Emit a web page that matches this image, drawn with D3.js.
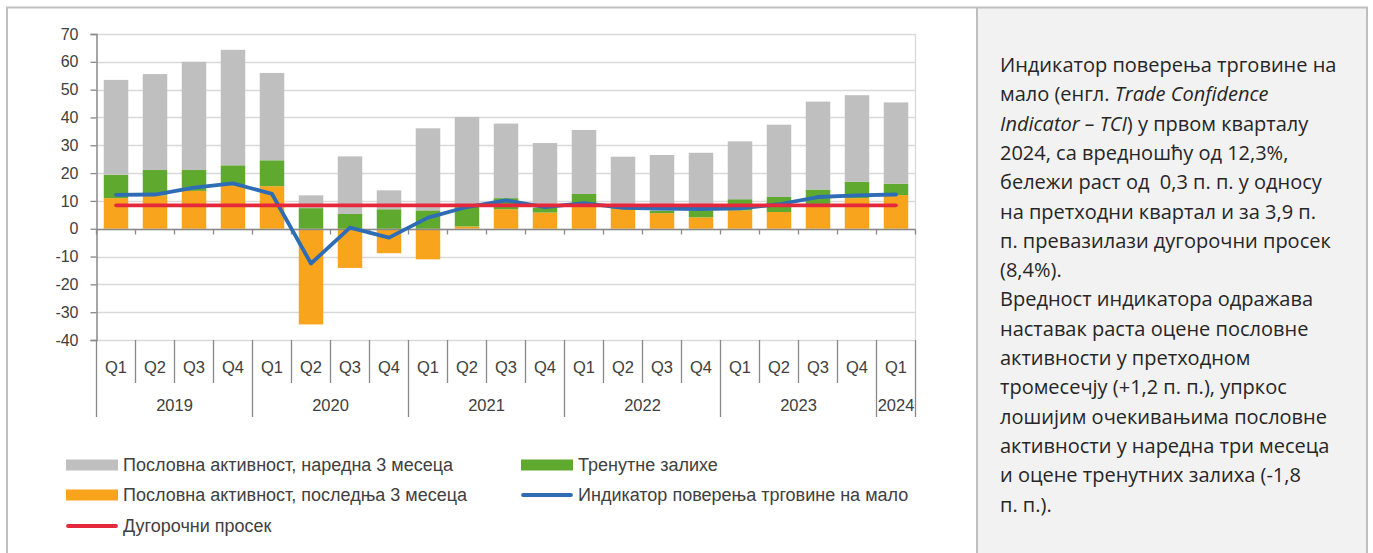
<!DOCTYPE html>
<html>
<head>
<meta charset="utf-8">
<script src="https://cdn.jsdelivr.net/npm/d3@7"></script>
<style>
  html, body { margin: 0; padding: 0; background: #fff; }
  svg { display: block; }
</style>
</head>
<body>
<svg id="chart" width="1373" height="553"></svg>
<script>
// Quarterly categories (two-level axis: quarter / year)
const quarterLabels = ["Q1","Q2","Q3","Q4","Q1","Q2","Q3","Q4","Q1","Q2","Q3","Q4",
                       "Q1","Q2","Q3","Q4","Q1","Q2","Q3","Q4","Q1"];
const yearLabels = ["2019","2019","2019","2019","2020","2020","2020","2020",
                    "2021","2021","2021","2021","2022","2022","2022","2022",
                    "2023","2023","2023","2023","2024"];

// Components (stacked columns)
const activityPast = [11.0, 12.0, 13.6, 15.5, 15.3, -34.4, -14.1, -8.8, -11.0, 0.8, 7.0, 5.8,
                      7.8, 7.2, 5.6, 4.1, 6.6, 6.0, 8.4, 11.0, 12.1];
const stocks       = [8.4, 9.1, 7.5, 7.3, 9.3, 7.4, 5.3, 7.0, 6.6, 7.2, 4.0, 1.8,
                      4.7, 0.4, 0.8, 2.5, 4.0, 5.4, 5.7, 5.9, 4.1];
const activityNext = [34.1, 34.5, 38.9, 41.5, 31.4, 4.6, 20.7, 6.8, 29.5, 32.2, 26.8, 23.2,
                      23.0, 18.3, 20.1, 20.7, 20.8, 26.0, 31.6, 31.1, 29.2];

// Lines
const tci = [12.2, 12.3, 14.8, 16.3, 12.5, -12.5, 0.4, -3.2, 4.0, 7.8, 10.2, 7.8,
             9.2, 7.5, 7.2, 7.1, 7.3, 8.8, 11.4, 12.0, 12.3];
const longTermAverage = Array(21).fill(8.4);

const yTicks = [70, 60, 50, 40, 30, 20, 10, 0, -10, -20, -30, -40];

const seriesNames = {
  next: "Пословна активност, наредна 3 месеца",
  stocks: "Тренутне залихе",
  past: "Пословна активност, последња 3 месеца",
  tci: "Индикатор поверења трговине на мало",
  avg: "Дугорочни просек"
};

const panelLines = [
  [["Индикатор поверења трговине на", false]],
  [["мало (енгл. ", false], ["Trade Confidence", true]],
  [["Indicator – TCI", true], [") у првом кварталу", false]],
  [["2024, са вредношћу од 12,3%,", false]],
  [["бележи раст од  0,3 п. п. у односу", false]],
  [["на претходни квартал и за 3,9 п.", false]],
  [["п. превазилази дугорочни просек", false]],
  [["(8,4%).", false]],
  [["Вредност индикатора одражава", false]],
  [["наставак раста оцене пословне", false]],
  [["активности у претходном", false]],
  [["тромесечју (+1,2 п. п.), упркос", false]],
  [["лошијим очекивањима пословне", false]],
  [["активности у наредна три месеца", false]],
  [["и оцене тренутних залиха (-1,8", false]],
  [["п. п.).", false]]
];

const colors = {
  next: "#bfbfbf",
  stocks: "#5fa92e",
  past: "#f8a51d",
  tci: "#2e6db5",
  avg: "#e6283c",
  grid: "#d9d9d9",
  axis: "#898989",
  frame: "#bfbfbf",
  text: "#404040"
};

const svg = d3.select("#chart");
const W = 1373, H = 553;

// Outer frame and commentary panel
svg.append("rect").attr("x", 977).attr("y", 7).attr("width", 390).attr("height", H)
  .attr("fill", "#f2f2f2");
svg.append("path")
  .attr("d", `M7,${H} V7.5 H1367 V${H} M977,7.5 V${H}`)
  .attr("fill", "none").attr("stroke", colors.frame).attr("stroke-width", 2);

// Plot area
const plot = { left: 96.5, right: 915.5, top: 34, bottom: 340 };
const idx = d3.range(quarterLabels.length);

const x = d3.scaleBand().domain(idx).range([plot.left, plot.right])
  .paddingInner(0.372).paddingOuter(0.186);
const y = d3.scaleLinear().domain([-40, 70]).range([plot.bottom, plot.top]);
const step = x.step();
const cx = i => x(i) + x.bandwidth() / 2;

// Horizontal gridlines
svg.append("g").selectAll("line").data(yTicks).join("line")
  .attr("x1", plot.left).attr("x2", plot.right)
  .attr("y1", d => Math.round(y(d)) + 0.5).attr("y2", d => Math.round(y(d)) + 0.5)
  .attr("stroke", colors.grid).attr("stroke-width", 1.3);
svg.append("line").attr("x1", plot.right).attr("x2", plot.right)
  .attr("y1", plot.top).attr("y2", plot.bottom)
  .attr("stroke", colors.grid).attr("stroke-width", 1.3);

// Y axis
const yAxis = d3.axisLeft(y).tickValues(yTicks).tickSize(6).tickPadding(12)
  .tickFormat(d => String(d));
const gy = svg.append("g").attr("transform", `translate(${plot.left},0)`).call(yAxis);
gy.select(".domain").attr("stroke", colors.axis).attr("stroke-width", 1.5);
gy.selectAll(".tick line").attr("stroke", colors.axis).attr("stroke-width", 1.3);
gy.selectAll(".tick text").attr("fill", colors.text)
  .style("font-family", "'Liberation Sans', Arial, sans-serif").style("font-size", "16px");

// Stacked columns
const rows = idx.map(i => ({ past: activityPast[i], stocks: stocks[i], next: activityNext[i] }));
const stacked = d3.stack().keys(["past", "stocks", "next"])
  .offset(d3.stackOffsetDiverging)(rows);

svg.append("g").selectAll("g").data(stacked).join("g")
  .attr("fill", d => colors[d.key])
  .selectAll("rect").data(d => d).join("rect")
  .attr("x", (d, i) => x(i))
  .attr("width", x.bandwidth())
  .attr("y", d => y(Math.max(d[0], d[1])))
  .attr("height", d => Math.abs(y(d[0]) - y(d[1])));

// Category axis at zero with tick marks at category boundaries
const zeroY = Math.round(y(0)) + 0.5;
svg.append("line").attr("x1", plot.left).attr("x2", plot.right)
  .attr("y1", zeroY).attr("y2", zeroY)
  .attr("stroke", colors.axis).attr("stroke-width", 1.5);
svg.append("g").selectAll("line").data(d3.range(quarterLabels.length + 1)).join("line")
  .attr("x1", i => plot.left + i * step).attr("x2", i => plot.left + i * step)
  .attr("y1", zeroY).attr("y2", zeroY + 5)
  .attr("stroke", colors.axis).attr("stroke-width", 1.3);

// Lines
const line = d3.line().x((d, i) => cx(i)).y(d => y(d));
svg.append("path").datum(tci).attr("d", line)
  .attr("fill", "none").attr("stroke", colors.tci).attr("stroke-width", 3.8)
  .attr("stroke-linejoin", "round").attr("stroke-linecap", "round");
svg.append("path").datum(longTermAverage).attr("d", line)
  .attr("fill", "none").attr("stroke", colors.avg).attr("stroke-width", 3.6)
  .attr("stroke-linecap", "round");

// Two-level category labels below the plot
const labelFont = "'Liberation Sans Narrow', 'Liberation Sans', Arial, sans-serif";
const catG = svg.append("g");
const qRowBottom = 383, yRowBottom = 417;
idx.concat([quarterLabels.length]).forEach(i => {
  const xb = plot.left + i * step;
  const isYearEdge = i === 0 || i === quarterLabels.length || yearLabels[i] !== yearLabels[i - 1];
  catG.append("line").attr("x1", xb).attr("x2", xb)
    .attr("y1", plot.bottom).attr("y2", isYearEdge ? yRowBottom : qRowBottom)
    .attr("stroke", colors.axis).attr("stroke-width", 1.3);
});
catG.selectAll("text.q").data(idx).join("text").attr("class", "q")
  .attr("x", i => cx(i)).attr("y", 367).attr("dy", "0.35em")
  .attr("text-anchor", "middle").attr("fill", colors.text)
  .style("font-family", labelFont).style("font-size", "16.5px")
  .text(i => quarterLabels[i]);
const yearGroups = d3.groups(idx, i => yearLabels[i]);
catG.selectAll("text.yr").data(yearGroups).join("text").attr("class", "yr")
  .attr("x", d => (plot.left + d[1][0] * step + plot.left + (d[1][d[1].length - 1] + 1) * step) / 2)
  .attr("y", 405).attr("dy", "0.35em")
  .attr("text-anchor", "middle").attr("fill", colors.text)
  .style("font-family", labelFont).style("font-size", "16.5px")
  .text(d => d[0]);

// Legend
const legendItems = [
  { key: "next", type: "rect", x: 66, y: 465 },
  { key: "stocks", type: "rect", x: 521, y: 465 },
  { key: "past", type: "rect", x: 66, y: 495 },
  { key: "tci", type: "line", x: 521, y: 495 },
  { key: "avg", type: "line", x: 66, y: 526 }
];
const lg = svg.append("g").selectAll("g").data(legendItems).join("g")
  .attr("transform", d => `translate(${d.x},${d.y})`);
lg.filter(d => d.type === "rect").append("rect")
  .attr("x", 0).attr("y", -5.5).attr("width", 52).attr("height", 11)
  .attr("fill", d => colors[d.key]);
lg.filter(d => d.type === "line").append("line")
  .attr("x1", 2).attr("x2", 50).attr("y1", 0).attr("y2", 0)
  .attr("stroke", d => colors[d.key]).attr("stroke-width", 3.8).attr("stroke-linecap", "round");
lg.append("text").attr("x", 57).attr("y", 0).attr("dy", "0.35em")
  .attr("fill", colors.text)
  .style("font-family", labelFont).style("font-size", "18px")
  .text(d => seriesNames[d.key]);

// Commentary text (runs of spaces kept as typed)
const panelText = svg.append("g").attr("fill", "#262626")
  .style("font-family", "'Open Sans', 'Noto Sans', sans-serif").style("font-size", "20px");
panelLines.forEach((parts, li) => {
  const t = panelText.append("text").attr("x", 1000).attr("y", 65 + li * 29.3).attr("dy", "0.35em");
  parts.forEach(([s, it]) => {
    t.append("tspan").style("font-style", it ? "italic" : "normal")
      .text(s.replace(/  /g, "\u00a0 "));
  });
});
</script>
</body>
</html>
